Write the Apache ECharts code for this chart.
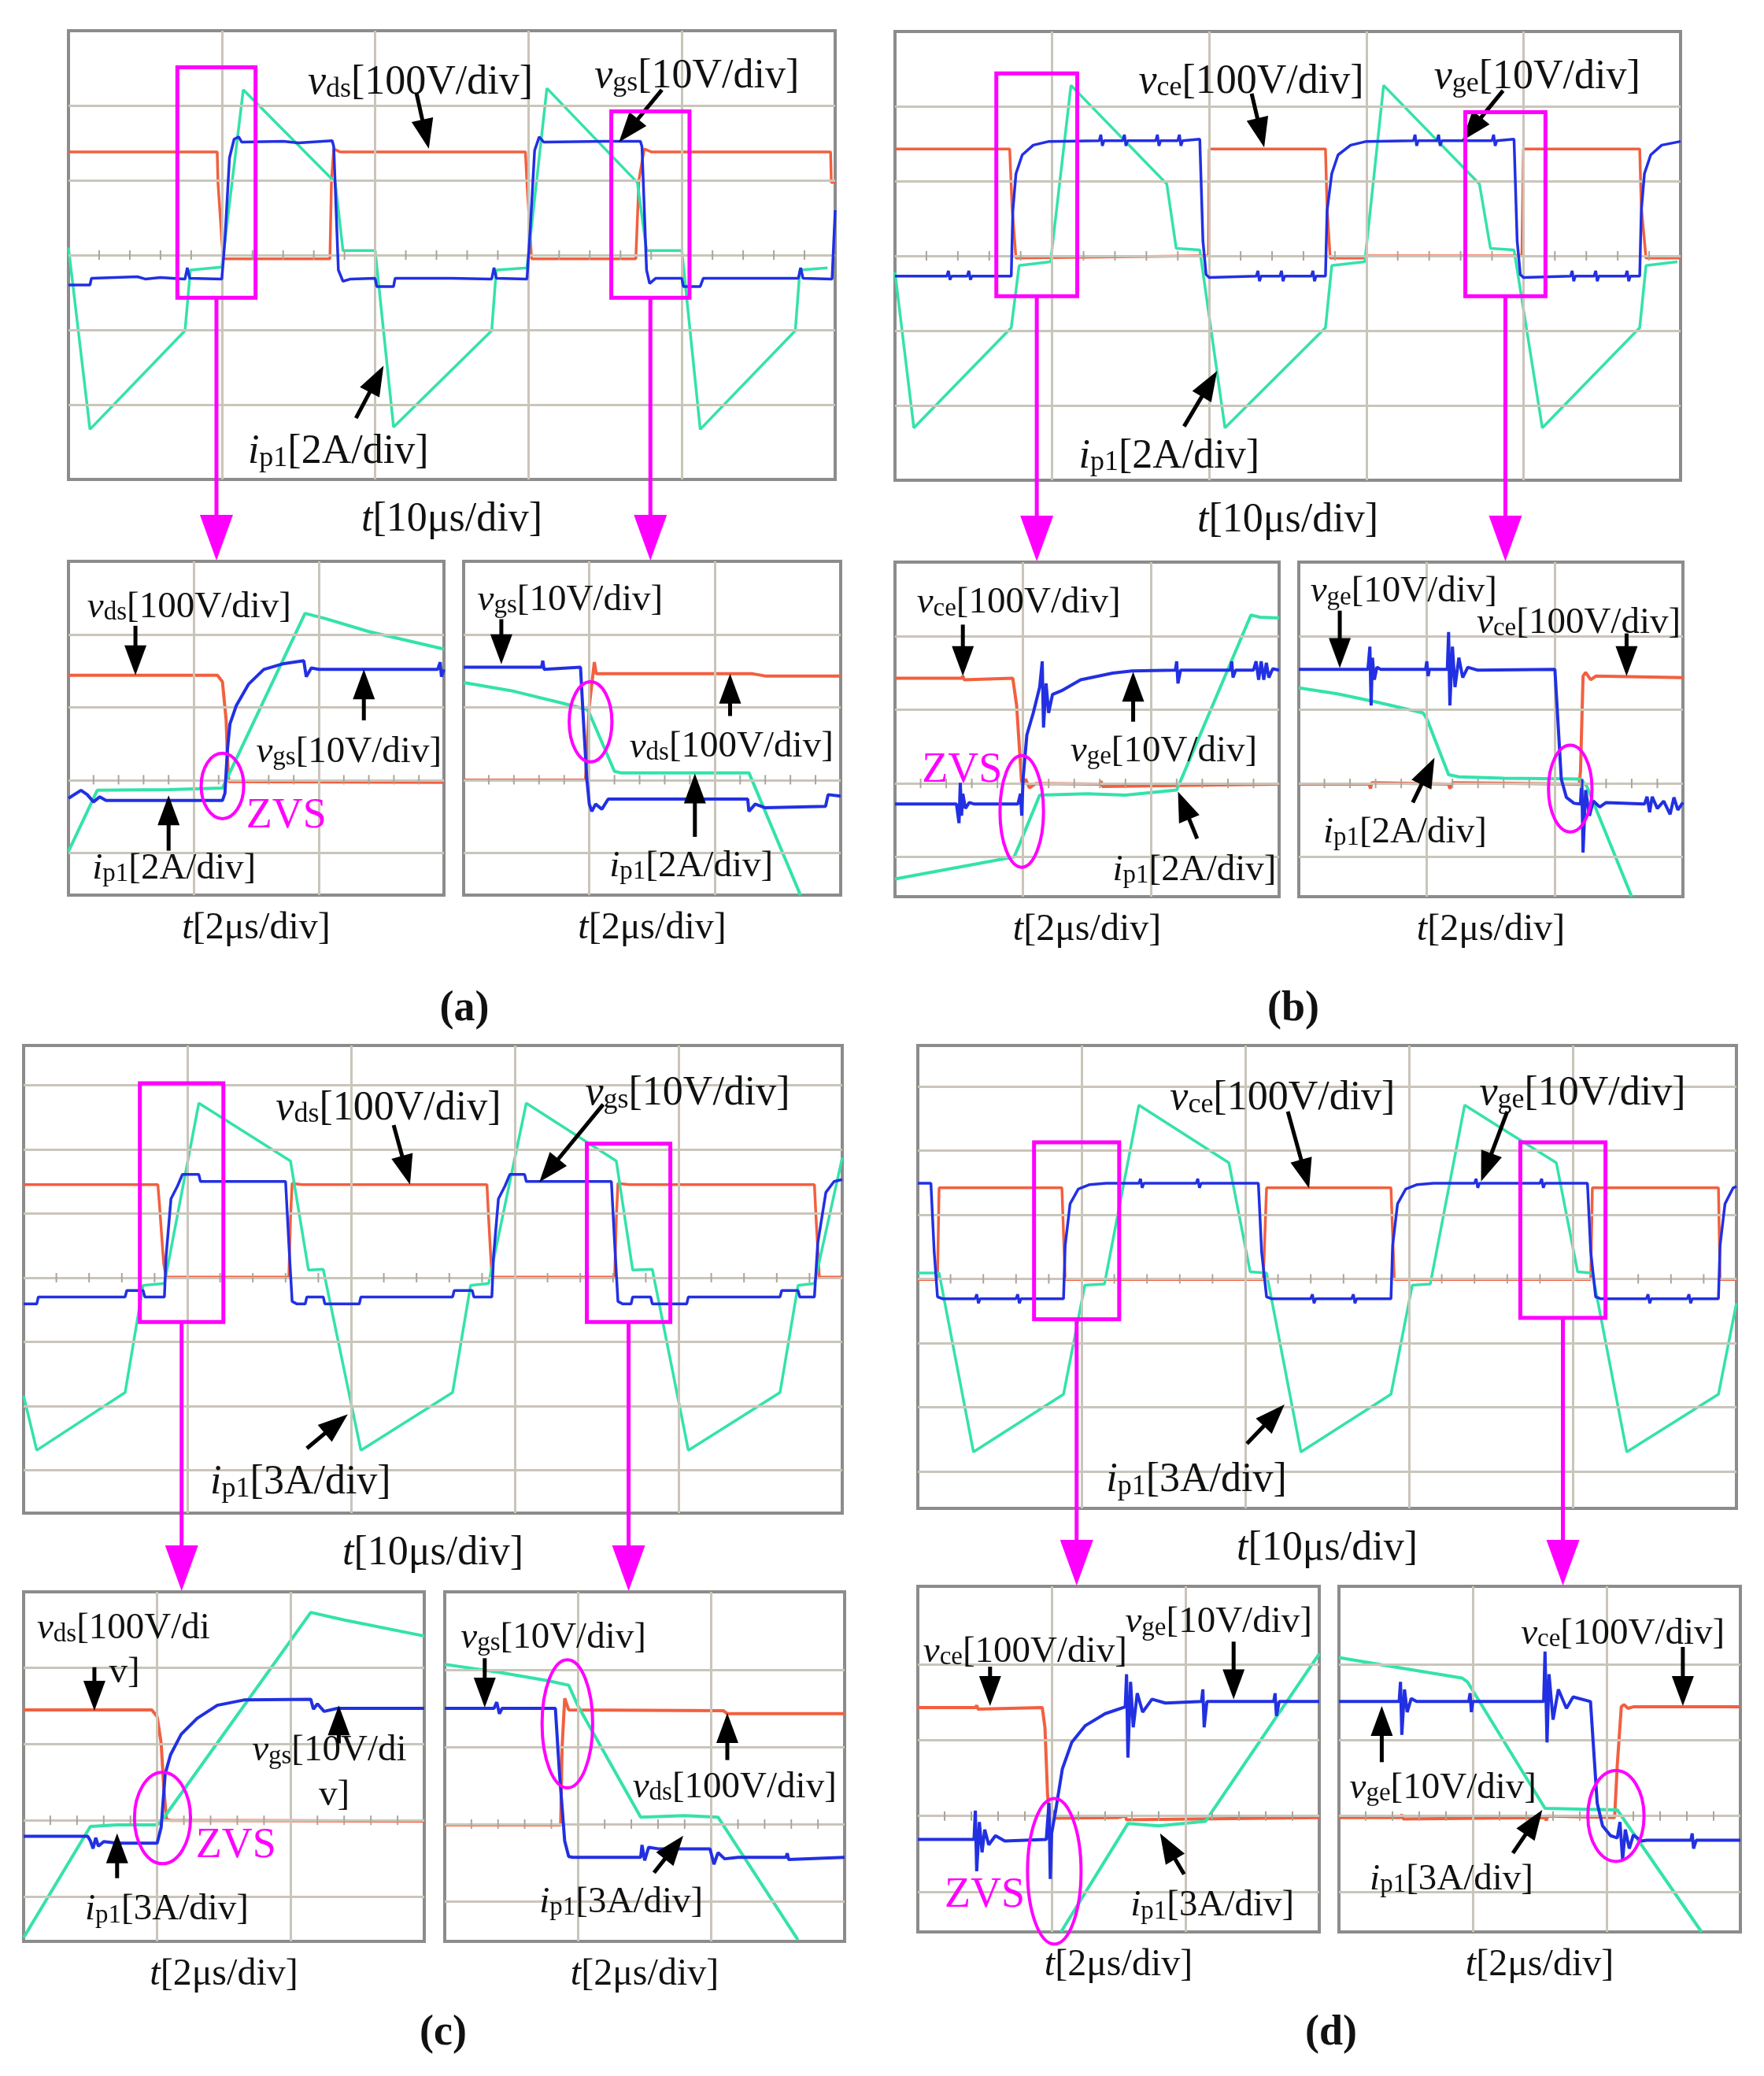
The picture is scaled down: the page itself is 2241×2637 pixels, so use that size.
<!DOCTYPE html>
<html>
<head>
<meta charset="utf-8">
<script src="https://cdn.jsdelivr.net/npm/echarts@6/dist/echarts.min.js"></script>
<style>
html,body{margin:0;padding:0;background:#fff;}
#main{width:2241px;height:2637px;}
</style>
</head>
<body>
<div id="main"></div>
<script>
// waveforms, read off the scope shots, in divisions: [x from left edge, y from bottom edge]
// (a) MOSFET, main window
var aMainVds = [[0,4.38],[0.97,4.38],[0.975,3.97],[1.0,3.2],[1.01,2.95],[1.705,2.95],[1.715,4.0],[1.73,4.42],[1.77,4.38],[2.98,4.38],[2.99,3.97],[3.02,2.95],[3.70,2.95],[3.72,4.0],[3.755,4.42],[3.8,4.38],[4.97,4.38],[4.975,3.97],[5,3.97]];
var aMainVgs = [[0,2.6],[0.14,2.6],[0.15,2.69],[0.45,2.71],[0.5,2.68],[0.6,2.7],[0.76,2.68],[0.775,2.83],[0.79,2.69],[1.0,2.68],[1.02,3.2],[1.05,4.3],[1.08,4.55],[1.11,4.58],[1.13,4.51],[1.4,4.52],[1.5,4.5],[1.72,4.53],[1.73,4.45],[1.76,2.8],[1.79,2.65],[1.84,2.68],[2.0,2.69],[2.01,2.58],[2.12,2.58],[2.13,2.69],[2.5,2.69],[2.76,2.68],[2.775,2.83],[2.79,2.69],[2.99,2.68],[3.01,3.3],[3.04,4.4],[3.07,4.58],[3.1,4.51],[3.5,4.52],[3.73,4.52],[3.74,4.45],[3.77,2.8],[3.79,2.62],[3.83,2.69],[4.0,2.69],[4.01,2.58],[4.12,2.58],[4.14,2.69],[4.76,2.69],[4.775,2.83],[4.79,2.69],[4.98,2.68],[5.0,3.6]];
var aMainIp = [[0,3.1],[0.14,0.67],[0.76,1.99],[0.795,2.80],[1.0,2.84],[1.14,5.21],[1.74,3.97],[1.79,3.06],[2.0,3.06],[2.12,0.7],[2.76,1.99],[2.79,2.80],[2.99,2.83],[3.12,5.23],[3.71,3.97],[3.77,3.06],[4.0,3.06],[4.12,0.67],[4.74,1.99],[4.77,2.80],[4.95,2.83]];
// (a) zoom, turn-on
var aLeftVds = [[0,3.02],[1.19,3.02],[1.23,2.93],[1.26,2.4],[1.27,1.9],[1.28,1.56],[3,1.55]];
var aLeftVgs = [[0,1.33],[0.1,1.44],[0.15,1.38],[0.2,1.28],[0.25,1.35],[0.3,1.30],[0.5,1.30],[1.23,1.30],[1.25,1.40],[1.27,2.0],[1.29,2.35],[1.34,2.6],[1.44,2.9],[1.56,3.1],[1.72,3.18],[1.88,3.22],[1.9,3.0],[1.94,3.12],[2.0,3.10],[2.95,3.10],[2.97,3.2],[2.98,3.0],[3.0,3.10]];
var aLeftIp = [[0,0.6],[0.23,1.44],[0.8,1.45],[1.23,1.47],[1.89,3.87],[2.05,3.80],[2.4,3.62],[3.0,3.38]];
// (a) zoom, turn-off
var aRightVds = [[0,1.58],[0.97,1.58],[1.0,2.6],[1.04,3.2],[1.055,3.04],[2.3,3.04],[2.4,3.01],[3.0,3.01]];
var aRightVgs = [[0,3.13],[0.62,3.13],[0.63,3.22],[0.64,3.10],[0.93,3.13],[0.95,2.5],[0.98,1.6],[1.0,1.25],[1.02,1.15],[1.05,1.25],[1.1,1.18],[1.15,1.32],[1.5,1.32],[2.26,1.32],[2.27,1.15],[2.32,1.25],[2.4,1.20],[2.88,1.22],[2.9,1.38],[3.0,1.36]];
var aRightIp = [[0,2.92],[0.4,2.8],[0.8,2.63],[0.98,2.55],[1.0,2.5],[1.2,1.7],[1.25,1.68],[2.27,1.68],[2.68,0]];

// (b) IGBT, main window
var bMainVce = [[0,4.43],[0.73,4.43],[0.745,3.66],[0.77,2.97],[1.94,3.0],[1.995,3.0],[2.0,4.43],[2.74,4.43],[2.75,3.66],[2.77,2.97],[2.99,2.97],[3.0,3.0],[3.94,3.0],[3.99,3.0],[4.0,4.43],[4.74,4.43],[4.75,3.66],[4.78,2.97],[5,2.97]];
var bMainVge = [[0,2.73],[0.33,2.73],[0.34,2.8],[0.35,2.68],[0.36,2.73],[0.46,2.73],[0.47,2.8],[0.48,2.68],[0.49,2.73],[0.74,2.73],[0.75,3.6],[0.77,4.1],[0.81,4.35],[0.88,4.48],[0.98,4.53],[1.3,4.54],[1.31,4.62],[1.32,4.47],[1.33,4.54],[1.45,4.54],[1.46,4.62],[1.47,4.47],[1.48,4.54],[1.66,4.54],[1.67,4.62],[1.68,4.47],[1.69,4.54],[1.8,4.54],[1.81,4.62],[1.82,4.47],[1.83,4.54],[1.94,4.56],[1.96,3.2],[1.98,2.75],[2.0,2.71],[2.3,2.73],[2.31,2.8],[2.32,2.66],[2.33,2.73],[2.45,2.73],[2.46,2.8],[2.47,2.66],[2.48,2.73],[2.65,2.73],[2.66,2.8],[2.67,2.66],[2.68,2.73],[2.74,2.73],[2.75,3.6],[2.78,4.1],[2.82,4.35],[2.9,4.48],[3.0,4.53],[3.3,4.54],[3.31,4.62],[3.32,4.47],[3.33,4.54],[3.45,4.54],[3.46,4.62],[3.47,4.47],[3.48,4.54],[3.8,4.54],[3.81,4.62],[3.82,4.47],[3.83,4.54],[3.94,4.56],[3.96,3.2],[3.98,2.75],[4.0,2.71],[4.3,2.73],[4.31,2.8],[4.32,2.66],[4.33,2.73],[4.45,2.73],[4.46,2.8],[4.47,2.66],[4.48,2.73],[4.65,2.73],[4.66,2.8],[4.67,2.66],[4.68,2.73],[4.74,2.73],[4.75,3.6],[4.77,4.1],[4.81,4.35],[4.88,4.48],[5.0,4.53]];
var bMainIp = [[0,2.78],[0.12,0.70],[0.74,2.04],[0.79,2.87],[0.99,2.92],[1.12,5.28],[1.73,3.96],[1.79,3.10],[1.94,3.08],[2.10,0.70],[2.74,2.04],[2.78,2.87],[2.99,2.92],[3.11,5.28],[3.72,3.96],[3.79,3.10],[3.94,3.08],[4.12,0.70],[4.74,2.04],[4.78,2.87],[4.98,2.92]];
// (b) zoom, turn-on
var bLeftVce = [[0,2.97],[0.52,2.97],[0.53,3.0],[0.54,2.95],[0.92,2.97],[0.95,2.6],[0.98,1.8],[0.99,1.52],[1.02,1.6],[1.05,1.48],[1.1,1.54],[1.6,1.53],[1.61,1.57],[1.62,1.5],[3.0,1.53]];
var bLeftVge = [[0,1.26],[0.48,1.26],[0.5,1.0],[0.51,1.55],[0.52,1.1],[0.53,1.4],[0.55,1.2],[0.58,1.28],[0.62,1.26],[0.96,1.26],[0.98,1.4],[0.99,1.1],[1.0,1.6],[1.03,2.2],[1.08,2.5],[1.13,2.85],[1.15,3.2],[1.16,2.3],[1.18,2.9],[1.2,2.5],[1.23,2.75],[1.3,2.8],[1.45,2.95],[1.7,3.04],[1.85,3.07],[2.19,3.08],[2.2,3.2],[2.21,2.9],[2.23,3.08],[2.62,3.08],[2.63,3.2],[2.64,2.98],[2.66,3.08],[2.8,3.08],[2.82,3.2],[2.84,2.95],[2.86,3.2],[2.88,2.95],[2.9,3.18],[2.92,2.98],[2.95,3.1],[3.0,3.08]];
var bLeftIp = [[0,0.24],[0.93,0.54],[0.97,0.7],[1.13,1.38],[1.5,1.4],[1.8,1.38],[2.2,1.45],[2.78,3.83],[2.85,3.80],[3.0,3.79]];
// (b) zoom, turn-off
var bRightVce = [[0,1.53],[0.55,1.53],[0.56,1.47],[0.57,1.55],[0.58,1.53],[1.17,1.53],[1.18,1.47],[1.2,1.55],[1.21,1.53],[2.19,1.53],[2.2,1.7],[2.22,3.0],[2.24,3.05],[2.28,2.95],[2.32,3.0],[3.0,2.98]];
var bRightVge = [[0,3.09],[0.54,3.09],[0.555,3.4],[0.565,2.6],[0.575,3.25],[0.59,2.95],[0.61,3.12],[0.64,3.09],[0.99,3.09],[1.0,3.2],[1.01,3.0],[1.02,3.09],[1.16,3.09],[1.17,3.6],[1.18,2.6],[1.2,3.4],[1.22,2.85],[1.25,3.25],[1.28,2.98],[1.32,3.12],[1.4,3.08],[2.0,3.09],[2.02,2.5],[2.05,1.6],[2.09,1.35],[2.15,1.27],[2.2,1.26],[2.21,1.6],[2.22,0.6],[2.24,1.45],[2.27,1.1],[2.3,1.3],[2.35,1.22],[2.4,1.28],[2.7,1.26],[2.72,1.36],[2.74,1.15],[2.76,1.36],[2.8,1.2],[2.85,1.3],[2.9,1.12],[2.93,1.35],[2.96,1.18],[3.0,1.28]];
var bRightIp = [[0,2.84],[0.3,2.76],[0.6,2.65],[0.97,2.50],[1.0,2.42],[1.17,1.66],[1.25,1.63],[1.6,1.61],[2.2,1.60],[2.25,1.5],[2.6,0.0]];

// (c) MOSFET, heavier load, main window
var cMainVds = [[0,5.12],[0.82,5.12],[0.83,4.8],[0.855,3.9],[0.87,3.68],[1.62,3.68],[1.63,4.6],[1.64,5.14],[1.7,5.12],[2.83,5.12],[2.84,4.6],[2.86,3.68],[3.61,3.68],[3.62,4.6],[3.63,5.14],[3.7,5.12],[4.83,5.12],[4.84,4.6],[4.86,3.68],[5.0,3.68]];
var cMainVgs = [[0,3.26],[0.08,3.26],[0.09,3.37],[0.62,3.37],[0.63,3.47],[0.73,3.47],[0.74,3.37],[0.86,3.37],[0.87,4.0],[0.9,4.9],[0.94,5.1],[0.97,5.28],[1.07,5.28],[1.08,5.17],[1.6,5.17],[1.62,4.2],[1.64,3.3],[1.67,3.26],[1.72,3.26],[1.73,3.37],[1.83,3.37],[1.84,3.26],[2.05,3.26],[2.06,3.37],[2.62,3.37],[2.63,3.47],[2.74,3.47],[2.75,3.37],[2.86,3.37],[2.87,4.0],[2.9,4.9],[2.94,5.1],[2.97,5.28],[3.06,5.28],[3.07,5.17],[3.59,5.17],[3.61,4.2],[3.63,3.3],[3.66,3.26],[3.71,3.26],[3.72,3.37],[3.83,3.37],[3.84,3.26],[4.05,3.26],[4.06,3.37],[4.62,3.37],[4.63,3.47],[4.73,3.47],[4.74,3.37],[4.83,3.37],[4.85,4.2],[4.9,5.0],[4.95,5.17],[5.0,5.2]];
var cMainIp = [[0,1.83],[0.08,0.98],[0.62,1.88],[0.73,3.55],[0.86,3.58],[1.07,6.39],[1.63,5.49],[1.74,3.79],[1.83,3.80],[2.06,0.98],[2.62,1.88],[2.73,3.55],[2.84,3.58],[3.07,6.39],[3.62,5.49],[3.72,3.79],[3.84,3.80],[4.06,0.98],[4.62,1.88],[4.73,3.55],[4.83,3.58],[5.0,5.54]];
// (c) zoom, turn-on
var cLeftVds = [[0,3.04],[0.96,3.04],[1.0,2.95],[1.03,2.6],[1.05,2.0],[1.07,1.6],[1.1,1.59],[3.0,1.58]];
var cLeftVgs = [[0,1.38],[0.48,1.38],[0.5,1.32],[0.52,1.22],[0.54,1.36],[0.56,1.25],[0.6,1.31],[0.7,1.29],[1.0,1.29],[1.03,1.5],[1.06,2.2],[1.1,2.45],[1.18,2.72],[1.3,2.93],[1.45,3.1],[1.65,3.17],[2.15,3.18],[2.17,3.05],[2.2,3.12],[2.25,3.02],[2.35,3.06],[3.0,3.06]];
var cLeftIp = [[0,0.05],[0.5,1.51],[0.7,1.53],[1.0,1.53],[1.04,1.6],[2.15,4.32],[2.4,4.22],[3.0,4.01]];
// (c) zoom, turn-off
var cRightVds = [[0,1.51],[0.87,1.51],[0.88,2.5],[0.9,3.15],[0.93,3.0],[2.09,2.99],[2.12,2.95],[3.0,2.95]];
var cRightVgs = [[0,3.02],[0.37,3.02],[0.39,3.1],[0.41,2.95],[0.43,3.02],[0.83,3.02],[0.86,2.2],[0.9,1.3],[0.93,1.1],[0.96,1.09],[1.47,1.09],[1.48,1.25],[1.5,1.05],[1.53,1.22],[1.6,1.2],[1.99,1.2],[2.02,1.0],[2.05,1.15],[2.1,1.07],[2.2,1.09],[2.56,1.09],[2.57,1.14],[2.58,1.06],[3.0,1.09]];
var cRightIp = [[0,3.59],[0.4,3.49],[0.77,3.38],[0.93,3.32],[1.0,3.05],[1.47,1.61],[1.8,1.63],[2.05,1.61],[2.65,0.02]];

// (d) IGBT, heavier load, main window
var dMainVce = [[0,3.57],[0.12,3.57],[0.13,5.0],[0.88,5.0],[0.9,3.57],[2.11,3.57],[2.13,5.0],[2.89,5.0],[2.91,3.57],[4.11,3.57],[4.12,5.0],[4.89,5.0],[4.90,3.57],[5.0,3.57]];
var dMainVge = [[0,5.07],[0.08,5.07],[0.1,4.0],[0.12,3.3],[0.15,3.27],[0.35,3.27],[0.36,3.34],[0.37,3.2],[0.38,3.27],[0.6,3.27],[0.61,3.34],[0.62,3.2],[0.63,3.27],[0.89,3.27],[0.9,4.1],[0.93,4.75],[0.98,4.98],[1.05,5.05],[1.15,5.07],[1.35,5.07],[1.36,5.14],[1.37,5.0],[1.38,5.07],[1.7,5.07],[1.71,5.14],[1.72,5.0],[1.73,5.07],[2.08,5.07],[2.1,4.0],[2.13,3.3],[2.16,3.27],[2.4,3.27],[2.41,3.34],[2.42,3.2],[2.43,3.27],[2.65,3.27],[2.66,3.34],[2.67,3.2],[2.68,3.27],[2.89,3.27],[2.9,4.1],[2.93,4.75],[2.98,4.98],[3.05,5.05],[3.15,5.07],[3.4,5.07],[3.41,5.14],[3.42,5.0],[3.43,5.07],[3.8,5.07],[3.81,5.14],[3.82,5.0],[3.83,5.07],[4.09,5.07],[4.11,4.0],[4.14,3.3],[4.17,3.27],[4.45,3.27],[4.46,3.34],[4.47,3.2],[4.48,3.27],[4.7,3.27],[4.71,3.34],[4.72,3.2],[4.73,3.27],[4.89,3.27],[4.9,4.1],[4.93,4.75],[4.98,5.0],[5.0,5.02]];
var dMainIp = [[0,3.67],[0.13,3.67],[0.34,0.88],[0.89,1.78],[1.02,3.48],[1.14,3.50],[1.35,6.29],[1.9,5.39],[2.03,3.69],[2.13,3.67],[2.34,0.88],[2.89,1.78],[3.02,3.48],[3.13,3.50],[3.34,6.29],[3.9,5.39],[4.03,3.69],[4.12,3.67],[4.33,0.88],[4.89,1.78],[5.0,3.2]];
// (d) zoom, turn-on
var dLeftVce = [[0,2.96],[0.43,2.96],[0.44,2.99],[0.45,2.94],[0.93,2.96],[0.95,2.7],[0.97,1.8],[0.99,1.45],[1.01,1.6],[1.03,1.5],[1.5,1.51],[1.55,1.53],[1.56,1.48],[3.0,1.51]];
var dLeftVge = [[0,1.22],[0.42,1.22],[0.43,1.6],[0.44,0.8],[0.46,1.45],[0.48,1.05],[0.5,1.35],[0.53,1.15],[0.58,1.27],[0.65,1.2],[0.96,1.22],[0.98,1.7],[0.99,0.7],[1.0,1.3],[1.03,1.6],[1.08,2.15],[1.15,2.5],[1.25,2.72],[1.4,2.88],[1.55,2.97],[1.56,3.4],[1.57,2.3],[1.59,3.3],[1.61,2.7],[1.64,3.15],[1.68,2.9],[1.75,3.07],[1.85,3.02],[2.12,3.04],[2.13,3.2],[2.14,2.7],[2.16,3.04],[2.66,3.04],[2.67,3.15],[2.68,2.85],[2.7,3.04],[3.0,3.04]];
var dLeftIp = [[1.07,0.0],[1.57,1.43],[1.8,1.40],[2.15,1.46],[3.0,3.67]];
// (d) zoom, turn-off
var dRightVce = [[0,1.51],[0.46,1.51],[0.47,1.55],[0.48,1.49],[1.54,1.51],[1.55,1.47],[1.56,1.53],[2.06,1.51],[2.08,2.2],[2.11,2.97],[2.13,3.0],[2.16,2.95],[2.2,2.97],[3.0,2.97]];
var dRightVge = [[0,3.04],[0.45,3.04],[0.46,3.3],[0.47,2.6],[0.49,3.2],[0.51,2.9],[0.54,3.08],[0.58,3.04],[0.97,3.04],[0.98,3.15],[0.99,2.9],[1.0,3.04],[1.53,3.04],[1.54,3.7],[1.555,2.5],[1.57,3.4],[1.6,2.8],[1.64,3.2],[1.7,2.95],[1.75,3.1],[1.88,3.04],[1.9,2.5],[1.93,1.7],[1.97,1.4],[2.03,1.27],[2.08,1.24],[2.1,1.45],[2.12,0.95],[2.14,1.35],[2.17,1.1],[2.2,1.28],[2.26,1.2],[2.3,1.21],[2.63,1.21],[2.64,1.3],[2.65,1.1],[2.67,1.21],[3.0,1.21]];
var dRightIp = [[0,3.62],[0.4,3.5],[0.92,3.35],[0.96,3.3],[1.54,1.63],[1.8,1.62],[2.08,1.61],[2.71,0.0]];

// one entry per scope window: pixel box, visible divisions, graticule rows
var panels = [
  {rect:[87,39,974,570], xMax:5, yMax:6, yLines:[1,2,3,4,5], tickY:3, tr:[aMainVds,aMainVgs,aMainIp]},
  {rect:[87,713,477,424], xMax:3, yMax:4.585, yLines:[0.585,1.585,2.585,3.585], tickY:1.585, tr:[aLeftVds,aLeftVgs,aLeftIp]},
  {rect:[589,713,479,424], xMax:3, yMax:4.585, yLines:[0.585,1.585,2.585,3.585], tickY:1.585, tr:[aRightVds,aRightVgs,aRightIp]},
  {rect:[1137,40,998,570], xMax:5, yMax:6, yLines:[1,2,3,4,5], tickY:3, tr:[bMainVce,bMainVge,bMainIp]},
  {rect:[1137,714,488,425], xMax:3, yMax:4.55, yLines:[0.54,1.54,2.54,3.54], tickY:1.54, tr:[bLeftVce,bLeftVge,bLeftIp]},
  {rect:[1650,714,488,425], xMax:3, yMax:4.55, yLines:[0.54,1.54,2.54,3.54], tickY:1.54, tr:[bRightVce,bRightVge,bRightIp]},
  {rect:[30,1328,1040,594], xMax:5, yMax:7.29, yLines:[0.67,1.67,2.67,3.67,4.67,5.67,6.67], tickY:3.67, tr:[cMainVds,cMainVgs,cMainIp]},
  {rect:[30,2022,509,444], xMax:3, yMax:4.59, yLines:[0.59,1.59,2.59,3.59], tickY:1.59, tr:[cLeftVds,cLeftVgs,cLeftIp]},
  {rect:[565,2022,508,444], xMax:3, yMax:4.53, yLines:[0.52,1.52,2.52,3.52], tickY:1.52, tr:[cRightVds,cRightVgs,cRightIp]},
  {rect:[1166,1328,1040,588], xMax:5, yMax:7.22, yLines:[0.58,1.58,2.58,3.58,4.58,5.58,6.58], tickY:3.58, tr:[dMainVce,dMainVge,dMainIp]},
  {rect:[1166,2015,510,439], xMax:3, yMax:4.56, yLines:[0.53,1.53,2.53,3.53], tickY:1.53, tr:[dLeftVce,dLeftVge,dLeftIp]},
  {rect:[1701,2015,510,439], xMax:3, yMax:4.56, yLines:[0.53,1.53,2.53,3.53], tickY:1.53, tr:[dRightVce,dRightVge,dRightIp]}
];

// annotations, in the divisions of their window
var labels = [
  [0,1.56,5.35,'v','ds','[100V/div]'],[0,3.43,5.44,'v','gs','[10V/div]'],[0,1.17,0.42,'i','p1','[2A/div]'],
  [1,0.15,4.0,'v','ds','[100V/div]'],[1,1.5,2.01,'v','gs','[10V/div]'],[1,0.19,0.41,'i','p1','[2A/div]'],
  [2,0.11,4.1,'v','gs','[10V/div]'],[2,1.32,2.08,'v','ds','[100V/div]'],[2,1.16,0.44,'i','p1','[2A/div]'],
  [3,1.55,5.38,'v','ce','[100V/div]'],[3,3.43,5.44,'v','ge','[10V/div]'],[3,1.17,0.37,'i','p1','[2A/div]'],
  [4,0.17,4.04,'v','ce','[100V/div]'],[4,1.37,2.02,'v','ge','[10V/div]'],[4,1.7,0.41,'i','p1','[2A/div]'],
  [5,0.09,4.19,'v','ge','[10V/div]'],[5,1.39,3.77,'v','ce','[100V/div]'],[5,0.19,0.92,'i','p1','[2A/div]'],
  [6,1.54,6.37,'v','ds','[100V/div]'],[6,3.43,6.6,'v','gs','[10V/div]'],[6,1.14,0.53,'i','p1','[3A/div]'],
  [7,0.1,4.15,'v','ds','[100V/di'],[7,0.64,3.58,'','','v]'],[7,1.71,2.55,'v','gs','[10V/di'],[7,2.21,1.96,'','','v]'],[7,0.46,0.46,'i','p1','[3A/div]'],
  [8,0.12,3.98,'v','gs','[10V/div]'],[8,1.41,2.04,'v','ds','[100V/div]'],[8,0.71,0.55,'i','p1','[3A/div]'],
  [9,1.54,6.45,'v','ce','[100V/div]'],[9,3.43,6.53,'v','ge','[10V/div]'],[9,1.15,0.5,'i','p1','[3A/div]'],
  [10,1.55,4.13,'v','ge','[10V/div]'],[10,0.04,3.74,'v','ce','[100V/div]'],[10,1.59,0.39,'i','p1','[3A/div]'],
  [11,1.36,3.98,'v','ce','[100V/div]'],[11,0.08,1.94,'v','ge','[10V/div]'],[11,0.23,0.74,'i','p1','[3A/div]']
];
var arrows = [
  [0,2.27,5.16,2.35,4.42],[0,3.87,5.21,3.59,4.51],[0,1.875,0.82,2.055,1.52],
  [1,0.535,3.70,0.535,3.02],[1,2.36,2.40,2.36,3.10],[1,0.80,0.61,0.80,1.37],
  [2,0.30,3.79,0.30,3.17],[2,2.12,2.46,2.12,3.04],[2,1.84,0.80,1.84,1.67],
  [3,2.27,5.17,2.35,4.45],[3,3.87,5.21,3.61,4.54],[3,1.84,0.72,2.05,1.46],
  [4,0.53,3.70,0.53,3.0],[4,1.86,2.38,1.86,3.06],[4,2.36,0.79,2.21,1.43],
  [5,0.32,3.89,0.32,3.11],[5,2.56,3.58,2.56,3.0],[5,0.89,1.28,1.06,1.89],
  [6,2.26,6.05,2.36,5.12],[6,3.54,6.37,3.15,5.16],[6,1.73,1.01,1.98,1.54],
  [7,0.53,3.6,0.53,3.03],[7,2.36,2.6,2.36,3.1],[7,0.70,0.83,0.70,1.42],
  [8,0.30,3.67,0.30,3.03],[8,2.12,2.35,2.12,2.96],[8,1.57,0.89,1.79,1.37],
  [9,2.26,6.19,2.39,4.99],[9,3.6,6.19,3.44,5.1],[9,2.01,1.01,2.24,1.62],
  [10,2.36,3.83,2.36,3.07],[10,0.54,3.5,0.54,2.98],[10,1.99,0.76,1.81,1.30],
  [11,2.57,3.76,2.57,2.98],[11,0.32,2.24,0.32,2.98],[11,1.3,1.04,1.52,1.61]
];
var zvsRings = [[1,1.23,1.50,0.17,0.45],[2,1.01,2.38,0.17,0.55],[4,0.99,1.16,0.17,0.76],[5,2.12,1.47,0.17,0.59],[7,1.04,1.62,0.21,0.6],[8,0.92,2.82,0.19,0.83],[10,1.02,0.8,0.2,0.96],[11,2.07,1.53,0.21,0.6]];
var zvsText = [[1,1.42,1.08],[4,0.21,1.72],[7,1.29,1.25],[10,0.2,0.48]];
// zoom boxes in the main windows: [main, sub, x0, y0, x1, y1]
var boxes = [[0,1,0.71,2.43,1.22,5.51],[0,2,3.54,2.43,4.05,4.92],[3,4,0.645,2.46,1.16,5.44],[3,5,3.63,2.46,4.14,4.92],
  [6,7,0.71,2.98,1.22,6.70],[6,8,3.44,2.98,3.95,5.76],[9,10,0.71,2.95,1.23,5.71],[9,11,3.68,2.97,4.20,5.71]];
var captions = [['(a)',590,1277],['(b)',1643,1277],['(c)',563,2578],['(d)',1691,2578]];

var RED = '#f2603f', BLUE = '#2230e2', GREEN = '#34e2aa', MAG = '#ff00ff';
var F = '"Liberation Serif", "Times New Roman", serif';

var chart = echarts.init(document.getElementById('main'));

var grids = [], xAxes = [], yAxes = [], series = [];
panels.forEach(function (p, i) {
  var main = p.xMax === 5;
  grids.push({left:p.rect[0], top:p.rect[1], width:p.rect[2], height:p.rect[3], show:true,
    backgroundColor:'#fff', borderColor:'#8c8c8c', borderWidth:4});
  xAxes.push({type:'value', gridIndex:i, min:0, max:p.xMax, show:false});
  yAxes.push({type:'value', gridIndex:i, min:0, max:p.yMax, show:false});
  var gl = [];
  for (var k = 1; k < p.xMax; k++) gl.push({xAxis:k});
  p.yLines.forEach(function (v) { gl.push({yAxis:v}); });
  series.push({type:'line', xAxisIndex:i, yAxisIndex:i, data:[[0,0]], symbol:'none', silent:true, z:1,
    lineStyle:{opacity:0},
    markLine:{silent:true, animation:false, symbol:['none','none'], label:{show:false},
      lineStyle:{color:'#cac5ba', width:3, type:'solid'}, emphasis:{disabled:true}, data:gl}});
  var lw = main ? 3.5 : 4;
  [[p.tr[0], RED, 3], [p.tr[2], GREEN, 4], [p.tr[1], BLUE, 5]].forEach(function (t) {
    series.push({type:'line', xAxisIndex:i, yAxisIndex:i, data:t[0], symbol:'none', showSymbol:false,
      silent:true, z:t[2], lineStyle:{color:t[1], width:lw}});
  });
});

chart.setOption({animation:false, grid:grids, xAxis:xAxes, yAxis:yAxes, series:series});

// annotations placed through the grids' own scales
function pt(p, x, y) { return chart.convertToPixel({gridIndex:p}, [x, y]); }
function rich(size) {
  var lh = Math.round(size * 1.2), ss = Math.round(size * 0.7);
  return {
    v:{font:'italic ' + size + 'px ' + F, fill:'#111', verticalAlign:'bottom', lineHeight:lh},
    s:{font:ss + 'px ' + F, fill:'#111', verticalAlign:'bottom', lineHeight:ss},
    n:{font:size + 'px ' + F, fill:'#111', verticalAlign:'bottom', lineHeight:lh},
    b:{font:'bold ' + size + 'px ' + F, fill:'#111', verticalAlign:'bottom', lineHeight:lh}
  };
}
function textEl(x, y, str, size, align) {
  return {type:'text', x:x, y:y, z:100, silent:true,
    style:{text:str, rich:rich(size), font:size + 'px ' + F, fill:'#111',
      align:align, verticalAlign:'middle', textAlign:align, textVerticalAlign:'middle'}};
}
function arrowEls(a, b, color, w, hl, hw) {
  var dx = b[0] - a[0], dy = b[1] - a[1], L = Math.sqrt(dx * dx + dy * dy), ux = dx / L, uy = dy / L;
  var bx = b[0] - ux * hl, by = b[1] - uy * hl;
  return [
    {type:'line', z:100, silent:true, shape:{x1:a[0], y1:a[1], x2:bx + ux * 3, y2:by + uy * 3}, style:{stroke:color, lineWidth:w}},
    {type:'polygon', z:100, silent:true, shape:{points:[[b[0], b[1]], [bx - uy * hw / 2, by + ux * hw / 2], [bx + uy * hw / 2, by - ux * hw / 2]]}, style:{fill:color}}
  ];
}

var g = [];
// small ticks on the centre row of each graticule, and the time-base titles
panels.forEach(function (p, i) {
  for (var k = 1; k < p.xMax * 5; k++) {
    if (k % 5 === 0) continue;
    var c = pt(i, k / 5, p.tickY);
    g.push({type:'line', z:10, silent:true, shape:{x1:c[0], y1:c[1] - 6, x2:c[0], y2:c[1] + 6}, style:{stroke:'#aaa59b', lineWidth:2}});
  }
  var main = p.xMax === 5;
  var bot = p.rect[1] + p.rect[3];
  var cx = p.rect[0] + p.rect[2] / 2;
  g.push(textEl(cx, bot + (main ? 46 : 37), main ? '{v|t}{n|[10μs/div]}' : '{v|t}{n|[2μs/div]}', main ? 52 : 48, 'center'));
});
labels.forEach(function (l) {
  var c = pt(l[0], l[1], l[2]);
  var s = '';
  if (l[3]) s += '{v|' + l[3] + '}';
  if (l[4]) s += '{s|' + l[4] + '}';
  s += '{n|' + l[5] + '}';
  g.push(textEl(c[0], c[1], s, panels[l[0]].xMax === 5 ? 52 : 47, 'left'));
});
arrows.forEach(function (a) {
  g = g.concat(arrowEls(pt(a[0], a[1], a[2]), pt(a[0], a[3], a[4]), '#000', 5, 38, 28));
});
zvsRings.forEach(function (e) {
  var c = pt(e[0], e[1], e[2]), p = panels[e[0]];
  g.push({type:'ellipse', z:100, silent:true,
    shape:{cx:c[0], cy:c[1], rx:e[3] * p.rect[2] / p.xMax, ry:e[4] * p.rect[3] / p.yMax},
    style:{fill:'none', stroke:MAG, lineWidth:4}});
});
zvsText.forEach(function (z) {
  var c = pt(z[0], z[1], z[2]);
  g.push({type:'text', x:c[0], y:c[1], z:100, silent:true,
    style:{text:'ZVS', font:'54px ' + F, fill:MAG, align:'left', verticalAlign:'middle', textAlign:'left', textVerticalAlign:'middle'}});
});
boxes.forEach(function (b) {
  var p0 = pt(b[0], b[2], b[5]), p1 = pt(b[0], b[4], b[3]);
  g.push({type:'rect', z:100, silent:true, shape:{x:p0[0], y:p0[1], width:p1[0] - p0[0], height:p1[1] - p0[1]},
    style:{fill:'none', stroke:MAG, lineWidth:5}});
  var ax = (p0[0] + p1[0]) / 2;
  var top = panels[b[1]].rect[1] - 1;
  g = g.concat(arrowEls([ax, p1[1]], [ax, top], MAG, 5, 58, 42));
});
captions.forEach(function (c) {
  g.push(textEl(c[1], c[2], '{b|' + c[0] + '}', 54, 'center'));
});

chart.setOption({graphic:{elements:g}});
</script>
</body>
</html>
